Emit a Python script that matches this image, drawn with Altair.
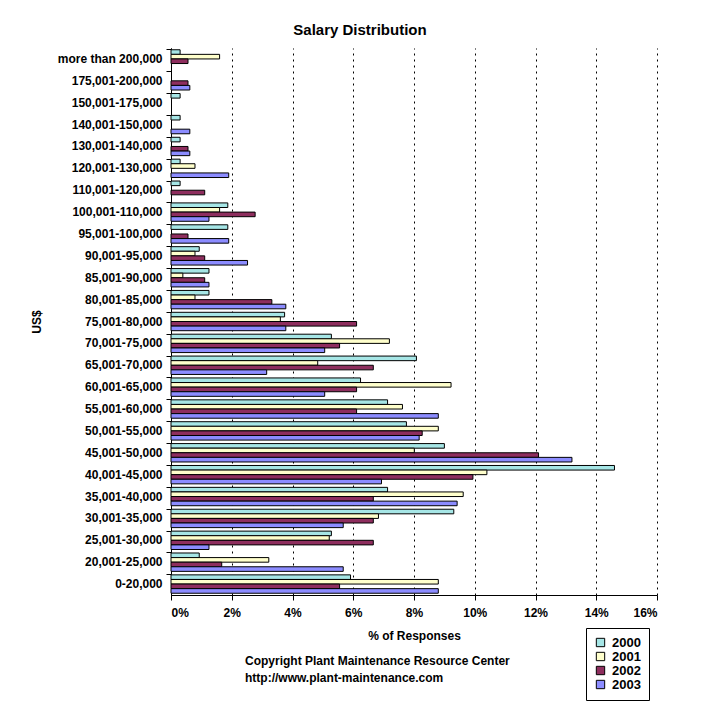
import altair as alt
import pandas as pd

categories = [
    "more than 200,000", "175,001-200,000", "150,001-175,000", "140,001-150,000",
    "130,001-140,000", "120,001-130,000", "110,001-120,000", "100,001-110,000",
    "95,001-100,000", "90,001-95,000", "85,001-90,000", "80,001-85,000",
    "75,001-80,000", "70,001-75,000", "65,001-70,000", "60,001-65,000",
    "55,001-60,000", "50,001-55,000", "45,001-50,000", "40,001-45,000",
    "35,001-40,000", "30,001-35,000", "25,001-30,000", "20,001-25,000",
    "0-20,000",
]
years = ["2000", "2001", "2002", "2003"]

v2000 = [0.30, 0, 0.30, 0.30, 0.30, 0.30, 0.30, 1.87, 1.87, 0.93, 1.25, 1.25,
         3.74, 5.28, 8.08, 6.24, 7.13, 7.75, 9.00, 14.6, 7.13, 9.31, 5.28, 0.93, 5.91]
v2001 = [1.60, 0, 0, 0, 0, 0.79, 0, 1.60, 0, 0.79, 0.39, 0.79,
         3.60, 7.19, 4.83, 9.22, 7.62, 8.80, 8.01, 10.4, 9.62, 6.83, 5.21, 3.22, 8.80]
v2002 = [0.56, 0.56, 0, 0, 0.56, 0, 1.11, 2.77, 0.56, 1.11, 1.11, 3.32,
         6.11, 5.55, 6.66, 6.11, 6.11, 8.27, 12.1, 9.94, 6.66, 6.66, 6.66, 1.67, 5.55]
v2003 = [0, 0.62, 0, 0.62, 0.62, 1.90, 0, 1.25, 1.90, 2.52, 1.25, 3.78,
         3.78, 5.06, 3.15, 5.06, 8.80, 8.17, 13.2, 6.93, 9.42, 5.67, 1.25, 5.67, 8.80]

colors = ["#A6E6E6", "#FFFFCC", "#8E2E5E", "#8C8CFF"]
x_ticks = [0, 2, 4, 6, 8, 10, 12, 14, 16]
credit_lines = ["Copyright Plant Maintenance Resource Center",
                "http://www.plant-maintenance.com"]

rows = []
for yr, vals in zip(years, [v2000, v2001, v2002, v2003]):
    for c, v in zip(categories, vals):
        if v > 0:
            rows.append({"range": c, "year": yr, "pct": v / 100.0})
df = pd.DataFrame(rows)

font = "Liberation Sans"

bars = alt.Chart(df).mark_bar(stroke="black", strokeWidth=1).encode(
    y=alt.Y("range:N", sort=categories,
            scale=alt.Scale(paddingInner=0.16, paddingOuter=0.08),
            axis=alt.Axis(title="US$", titleFont=font, titleFontSize=12,
                          titleFontWeight="bold", titleColor="black",
                          titlePadding=14,
                          labelFont=font, labelFontSize=12, labelFontWeight="bold",
                          labelColor="black", labelPadding=4,
                          tickColor="black", tickSize=5, bandPosition=0,
                          domainColor="black", grid=False)),
    yOffset=alt.YOffset("year:N", sort=years, scale=alt.Scale(paddingInner=0, paddingOuter=0)),
    x=alt.X("pct:Q", scale=alt.Scale(domain=[0, 0.16], nice=False),
            axis=alt.Axis(title="% of Responses", format=".0%", values=[t / 100 for t in x_ticks],
                          titleFont=font, titleFontSize=12, titleFontWeight="bold",
                          titleColor="black", titlePadding=12,
                          labelFont=font, labelFontSize=12, labelFontWeight="bold",
                          labelColor="black", labelPadding=7,
                          tickColor="black", tickSize=5, domainColor="black",
                          grid=True, gridColor="black", gridDash=[2, 4], gridWidth=1)),
    color=alt.Color("year:N", sort=years, scale=alt.Scale(domain=years, range=colors),
                    legend=alt.Legend(title=None, orient="none", legendX=415, legendY=580,
                                      strokeColor="black", padding=8, fillColor="white",
                                      symbolType="square", symbolSize=70,
                                      symbolStrokeColor="black", symbolStrokeWidth=1,
                                      labelFont=font, labelFontSize=13, labelFontWeight="bold",
                                      labelColor="black", rowPadding=0, labelOffset=5)),
)

credits = pd.DataFrame({"line": credit_lines, "k": [0, 1]})
credit_text = alt.Chart(credits).mark_text(
    align="left", baseline="middle", font=font, fontSize=12, fontWeight="bold", color="black"
).encode(
    text="line:N",
    x=alt.value(74),
    y=alt.Y("k:Q", axis=None, scale=alt.Scale(domain=[0, 1], range=[613, 630])),
)

chart = alt.layer(bars, credit_text).resolve_scale(y="independent").properties(
    width=486, height=547,
    title=alt.TitleParams("Salary Distribution", font=font, fontSize=15, fontWeight="bold",
                          color="black", anchor="middle", dx=-54, offset=10),
    padding={"left": 163, "top": 40, "right": 30, "bottom": 110},
    autosize=alt.AutoSizeParams(type="none"),
    background="white",
).configure_view(stroke=None)

chart.save("out.html", embed_options={"renderer": "svg", "actions": False})
